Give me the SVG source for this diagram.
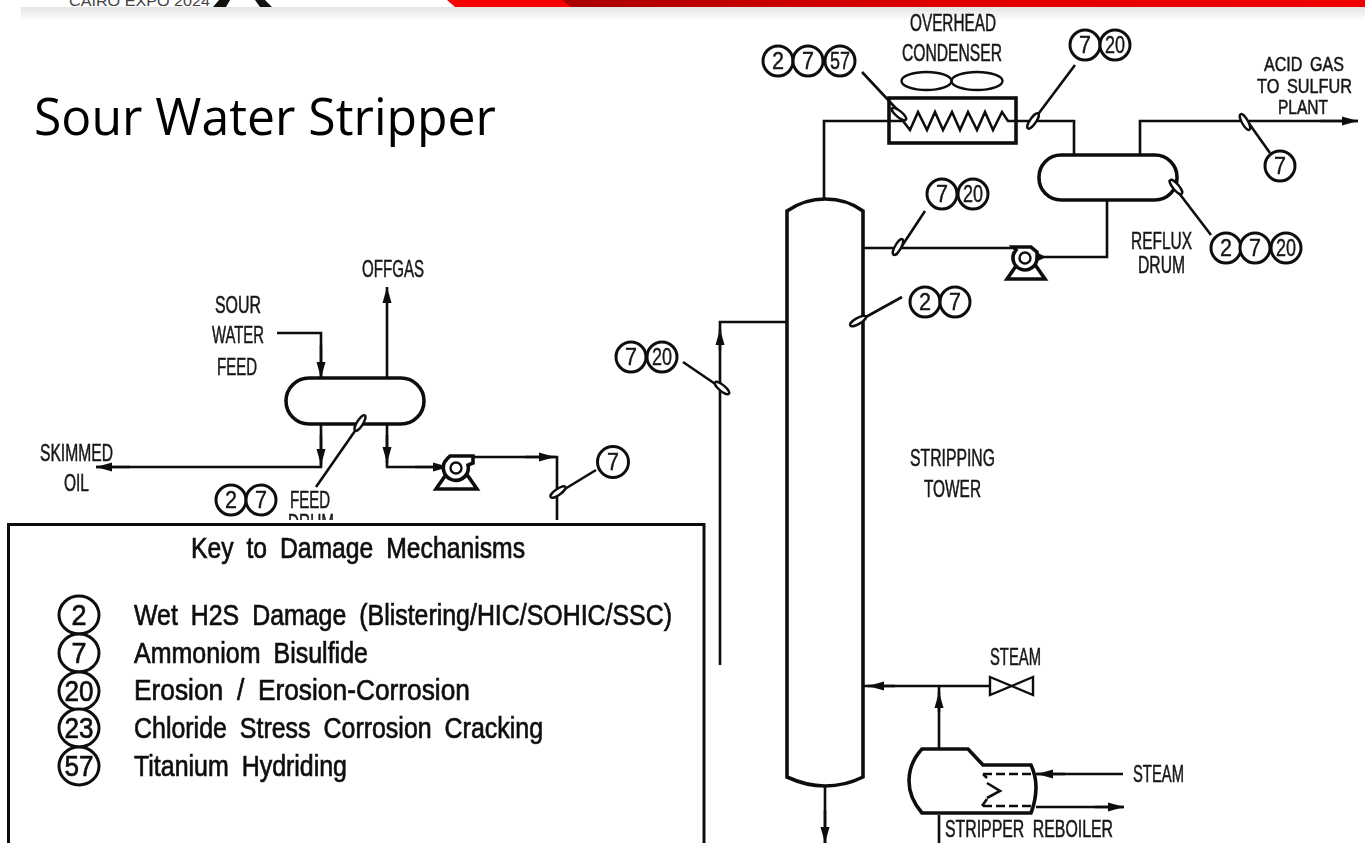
<svg xmlns="http://www.w3.org/2000/svg" width="1365" height="843" viewBox="0 0 1365 843">
<style>
.l{fill:none;stroke:#111;stroke-width:2.6}
.a{fill:none;stroke:#111;stroke-width:2.6;marker-end:url(#ah)}
.v{fill:#fff;stroke:#111;stroke-width:3.6}
.o{fill:none;stroke:#111;stroke-width:2.4}
.c{fill:#fff;stroke:#111;stroke-width:3}
.f{fill:#fff;stroke:#111;stroke-width:2.4}
.t{font-family:"Liberation Sans",Arial,sans-serif;font-size:23px;fill:#161616;stroke:#161616;stroke-width:.5}
.s{font-size:20.5px}
.n{font-family:"Liberation Sans",Arial,sans-serif;font-size:23px;fill:#161616;stroke:#161616;stroke-width:.4;text-anchor:middle}
.k{font-family:"Liberation Sans",Arial,sans-serif;font-size:29px;fill:#111;stroke:#111;stroke-width:.7}
.h{font-family:"Open Sans","Noto Sans",sans-serif;font-size:52px;fill:#000}
.b{filter:url(#soft)}
</style>
<defs>
<linearGradient id="sh" x1="0" y1="0" x2="0" y2="1"><stop offset="0" stop-color="#e4e4e4"/><stop offset="1" stop-color="#fff"/></linearGradient>
<linearGradient id="rd" gradientUnits="userSpaceOnUse" x1="562" y1="0" x2="1365" y2="0"><stop offset="0" stop-color="#a80000"/><stop offset=".46" stop-color="#df0000"/><stop offset="1" stop-color="#f20000"/></linearGradient>
<marker id="ah" markerUnits="userSpaceOnUse" markerWidth="18" markerHeight="12" refX="16" refY="6" orient="auto"><path d="M0 1.5L16 6L0 10.5Z" fill="#111"/></marker>
<filter id="soft" x="-5%" y="-5%" width="110%" height="110%"><feGaussianBlur stdDeviation="0.5"/></filter>
</defs>
<rect width="1365" height="843" fill="#fff"/>
<g id="header">
<rect x="21" y="7" width="1344" height="14" fill="url(#sh)"/>
<text x="69" y="6" font-family="'Liberation Sans',Arial,sans-serif" font-size="14.5" fill="#444" textLength="141" lengthAdjust="spacingAndGlyphs">CAIRO EXPO 2024</text>
<rect x="0" y="7" width="21" height="14" fill="#fff"/>
<path d="M219 0H230L226 7H213Z M255 0H265L272 7H260Z" fill="#111"/>
<path d="M447 0H1365V7H455Z" fill="#fb0000"/>
<path d="M562 0H1365V7H571Z" fill="url(#rd)"/>
</g>
<text id="title" class="h" x="34" y="135" textLength="462" lengthAdjust="spacingAndGlyphs">Sour Water Stripper</text>
<g class="b">
<g id="connectors">
<path class="l" d="M824 198V121H889M1016 121H1074V155M1140 155V121H1358"/>
<path class="a" d="M1320 121H1358"/>
<path class="l" d="M1107 200V257H1040M864 248H1012"/>
<path class="l" d="M787 322H720V665"/>
<path class="a" d="M720 350V329"/>
<path class="l" d="M864 686H990M939 749V686"/>
<path class="a" d="M895 686H868"/>
<path class="a" d="M939 712V692"/>
<path class="l" d="M825 787V843"/>
<path class="a" d="M825 810V843"/>
<path class="l" d="M1123 774H1036M1036 807H1123"/>
<path class="a" d="M1065 774H1037"/>
<path class="a" d="M1095 807H1124"/>
<path class="l" d="M939 815V843"/>
<path class="l" d="M277 333H321V378"/>
<path class="a" d="M321 345V378"/>
<path class="a" d="M387 378V287"/>
<path class="l" d="M321 424V467H96"/>
<path class="a" d="M321 435V465"/>
<path class="a" d="M130 467H96"/>
<path class="l" d="M387 424V467H438"/>
<path class="a" d="M387 435V463"/>
<path class="a" d="M415 467H449"/>
<path class="l" d="M472 457H557V520"/>
<path class="a" d="M525 457H555"/>
</g>
<g id="stripping-tower"><path class="v" d="M787 211C800 202 812 199 825 199C838 199 851 202 863 211V777C851 783 838 786 825 786C812 786 800 783 787 777Z"/>
<text class="t" x="910" y="466" textLength="85" lengthAdjust="spacingAndGlyphs">STRIPPING</text>
<text class="t" x="924" y="497" textLength="57" lengthAdjust="spacingAndGlyphs">TOWER</text></g>
<g id="overhead-condenser">
<rect class="v" x="889" y="98" width="127" height="45"/>
<ellipse class="o" cx="926.5" cy="81" rx="25" ry="9"/><ellipse class="o" cx="977" cy="81" rx="25.5" ry="9"/>
<path class="l" d="M889 121H903L910 130L918 112L927 130L935 112L943 130L952 112L960 130L968 112L977 130L985 112L993 130L1002 112L1008 121H1016"/>
<text class="t" x="910" y="31" textLength="86" lengthAdjust="spacingAndGlyphs">OVERHEAD</text>
<text class="t" x="902" y="61" textLength="100" lengthAdjust="spacingAndGlyphs">CONDENSER</text>
</g>
<g id="reflux-drum"><rect class="v" x="1039" y="155" width="138" height="45" rx="22" ry="22"/>
<text class="t" x="1131" y="249" textLength="61" lengthAdjust="spacingAndGlyphs">REFLUX</text>
<text class="t" x="1138" y="273" textLength="47" lengthAdjust="spacingAndGlyphs">DRUM</text></g>
<g id="reflux-pump">
<path class="v" d="M1007 279L1016 266H1036L1045 279Z" stroke-width="3"/>
<path class="v" d="M1013 247H1031L1037 252V258A12 12 0 1 1 1016 250Z" stroke-width="3"/>
<circle class="f" cx="1025" cy="258" r="5.5" stroke-width="3.4"/>
<path d="M1036 252L1046 257L1036 262Z" fill="#111"/>
</g>
<g id="feed-drum"><rect class="v" x="286" y="378" width="138" height="46" rx="23" ry="23"/>
<text class="t" x="290" y="508" textLength="40" lengthAdjust="spacingAndGlyphs">FEED</text>
<text class="t" x="288" y="531" textLength="46" lengthAdjust="spacingAndGlyphs">DRUM</text></g>
<g id="feed-pump">
<path class="v" d="M436 489L445 476H468L477 489Z" stroke-width="3"/>
<path class="v" d="M450 456H473V463L468 465A12.5 12.5 0 1 1 447 459Z" stroke-width="3"/>
<circle class="f" cx="456" cy="468" r="5.5" stroke-width="3.4"/>
</g>
<g id="steam-valve"><path class="f" d="M990 677L1033 695V677L990 695Z" stroke-width="2.8"/>
<text class="t" x="990" y="665" textLength="51" lengthAdjust="spacingAndGlyphs">STEAM</text></g>
<g id="stripper-reboiler">
<path class="v" d="M922 749H968L983 765H1031Q1036 776 1036 787Q1036 800 1031 813H922Q909 798 909 781Q909 763 922 749Z"/>
<path class="l" d="M983 774H1031M983 806H1031" stroke-dasharray="9 4"/>
<path class="l" d="M983 774L987 778M987 783L1000 791L987 798M982 806L987 799"/>
<text class="t" x="945" y="837" textLength="168" lengthAdjust="spacingAndGlyphs" style="word-spacing:6px">STRIPPER REBOILER</text>
</g>
<g id="labels">
<text class="t" x="1133" y="782" textLength="51" lengthAdjust="spacingAndGlyphs">STEAM</text>
<text class="t s" x="1264" y="71" textLength="80" lengthAdjust="spacingAndGlyphs" style="word-spacing:4px">ACID GAS</text>
<text class="t s" x="1257" y="93" textLength="95" lengthAdjust="spacingAndGlyphs" style="word-spacing:4px">TO SULFUR</text>
<text class="t s" x="1278" y="114" textLength="50" lengthAdjust="spacingAndGlyphs">PLANT</text>
<text class="t" x="215" y="313" textLength="46" lengthAdjust="spacingAndGlyphs">SOUR</text>
<text class="t" x="212" y="343" textLength="52" lengthAdjust="spacingAndGlyphs">WATER</text>
<text class="t" x="217" y="375" textLength="40" lengthAdjust="spacingAndGlyphs">FEED</text>
<text class="t" x="362" y="277" textLength="62" lengthAdjust="spacingAndGlyphs">OFFGAS</text>
<text class="t" x="40" y="461" textLength="73" lengthAdjust="spacingAndGlyphs">SKIMMED</text>
<text class="t" x="64" y="491" textLength="25" lengthAdjust="spacingAndGlyphs">OIL</text>
</g>
<g id="tags">
<path class="l" d="M862 72L905 118M1075 65L1030 125M925 211L896 255M902 297L855 323M683 362L727 392M596 470L555 495M364 418L316 487M1169 180L1211 235M1243 115L1270 153"/>
<ellipse class="f" cx="899" cy="114" rx="9" ry="3" transform="rotate(40 899 114)"/>
<ellipse class="f" cx="1033" cy="121" rx="9" ry="3" transform="rotate(-55 1033 121)"/>
<ellipse class="f" cx="898" cy="247" rx="9" ry="3" transform="rotate(-60 898 247)"/>
<ellipse class="f" cx="858" cy="321" rx="9" ry="3" transform="rotate(-30 858 321)"/>
<ellipse class="f" cx="722" cy="388" rx="9" ry="3" transform="rotate(40 722 388)"/>
<ellipse class="f" cx="558" cy="492" rx="9" ry="3" transform="rotate(-35 558 492)"/>
<ellipse class="f" cx="360" cy="423" rx="9" ry="3" transform="rotate(-58 360 423)"/>
<ellipse class="f" cx="1176" cy="187" rx="9" ry="3" transform="rotate(50 1176 187)"/>
<ellipse class="f" cx="1245" cy="122" rx="9" ry="3" transform="rotate(60 1245 122)"/>
<g id="tag-condenser-in"><circle class="c" cx="778" cy="61" r="15"/><circle class="c" cx="808" cy="61" r="15"/><circle class="c" cx="840" cy="61" r="15"/><text class="n" x="778" y="69" textLength="12" lengthAdjust="spacingAndGlyphs">2</text><text class="n" x="808" y="69" textLength="12" lengthAdjust="spacingAndGlyphs">7</text><text class="n" x="840" y="69" textLength="20" lengthAdjust="spacingAndGlyphs">57</text></g>
<g id="tag-condenser-out"><circle class="c" cx="1085" cy="45" r="15"/><circle class="c" cx="1115" cy="45" r="15"/><text class="n" x="1085" y="53" textLength="12" lengthAdjust="spacingAndGlyphs">7</text><text class="n" x="1115" y="53" textLength="20" lengthAdjust="spacingAndGlyphs">20</text></g>
<g id="tag-acid"><circle class="c" cx="1280" cy="166" r="15"/><text class="n" x="1280" y="174" textLength="12" lengthAdjust="spacingAndGlyphs">7</text></g>
<g id="tag-reflux-line"><circle class="c" cx="942" cy="194" r="15"/><circle class="c" cx="973" cy="194" r="15"/><text class="n" x="942" y="202" textLength="12" lengthAdjust="spacingAndGlyphs">7</text><text class="n" x="973" y="202" textLength="20" lengthAdjust="spacingAndGlyphs">20</text></g>
<g id="tag-reflux-drum"><circle class="c" cx="1226" cy="248" r="15"/><circle class="c" cx="1255" cy="248" r="15"/><circle class="c" cx="1286" cy="248" r="15"/><text class="n" x="1226" y="256" textLength="12" lengthAdjust="spacingAndGlyphs">2</text><text class="n" x="1255" y="256" textLength="12" lengthAdjust="spacingAndGlyphs">7</text><text class="n" x="1286" y="256" textLength="20" lengthAdjust="spacingAndGlyphs">20</text></g>
<g id="tag-tower"><circle class="c" cx="925" cy="302" r="15"/><circle class="c" cx="955" cy="302" r="15"/><text class="n" x="925" y="310" textLength="12" lengthAdjust="spacingAndGlyphs">2</text><text class="n" x="955" y="310" textLength="12" lengthAdjust="spacingAndGlyphs">7</text></g>
<g id="tag-feed-line"><circle class="c" cx="631" cy="357" r="15"/><circle class="c" cx="662" cy="357" r="15"/><text class="n" x="631" y="365" textLength="12" lengthAdjust="spacingAndGlyphs">7</text><text class="n" x="662" y="365" textLength="20" lengthAdjust="spacingAndGlyphs">20</text></g>
<g id="tag-pump-out"><circle class="c" cx="613" cy="462" r="15.5"/><text class="n" x="613" y="470" textLength="12" lengthAdjust="spacingAndGlyphs">7</text></g>
<g id="tag-feed-drum"><circle class="c" cx="231" cy="500" r="15"/><circle class="c" cx="261" cy="500" r="15"/><text class="n" x="231" y="508" textLength="12" lengthAdjust="spacingAndGlyphs">2</text><text class="n" x="261" y="508" textLength="12" lengthAdjust="spacingAndGlyphs">7</text></g>
</g>
<g id="key">
<rect x="0" y="520" width="708" height="323" fill="#fff"/>
<path d="M8.5 843V524.5H704V843" fill="none" stroke="#111" stroke-width="3"/>
<text class="k" x="191" y="558" textLength="334" lengthAdjust="spacingAndGlyphs" style="word-spacing:7px">Key to Damage Mechanisms</text>
<g id="key-2"><ellipse class="c" cx="79" cy="615" rx="20" ry="19" stroke-width="4"/><text class="k" x="79" y="625" text-anchor="middle" textLength="15" lengthAdjust="spacingAndGlyphs">2</text><text class="k" x="134" y="625" textLength="538" lengthAdjust="spacingAndGlyphs" style="word-spacing:7px">Wet H2S Damage (Blistering/HIC/SOHIC/SSC)</text></g>
<g id="key-7"><ellipse class="c" cx="79" cy="653" rx="20" ry="19" stroke-width="4"/><text class="k" x="79" y="663" text-anchor="middle" textLength="15" lengthAdjust="spacingAndGlyphs">7</text><text class="k" x="134" y="663" textLength="234" lengthAdjust="spacingAndGlyphs" style="word-spacing:7px">Ammoniom Bisulfide</text></g>
<g id="key-20"><ellipse class="c" cx="79" cy="691" rx="20" ry="19" stroke-width="4"/><text class="k" x="79" y="701" text-anchor="middle" textLength="29" lengthAdjust="spacingAndGlyphs">20</text><text class="k" x="134" y="700" textLength="336" lengthAdjust="spacingAndGlyphs" style="word-spacing:7px">Erosion / Erosion-Corrosion</text></g>
<g id="key-23"><ellipse class="c" cx="79" cy="728" rx="20" ry="19" stroke-width="4"/><text class="k" x="79" y="738" text-anchor="middle" textLength="29" lengthAdjust="spacingAndGlyphs">23</text><text class="k" x="134" y="738" textLength="409" lengthAdjust="spacingAndGlyphs" style="word-spacing:7px">Chloride Stress Corrosion Cracking</text></g>
<g id="key-57"><ellipse class="c" cx="79" cy="766" rx="20" ry="19" stroke-width="4"/><text class="k" x="79" y="776" text-anchor="middle" textLength="29" lengthAdjust="spacingAndGlyphs">57</text><text class="k" x="134" y="776" textLength="213" lengthAdjust="spacingAndGlyphs" style="word-spacing:7px">Titanium Hydriding</text></g>
</g>
</g>
</svg>
